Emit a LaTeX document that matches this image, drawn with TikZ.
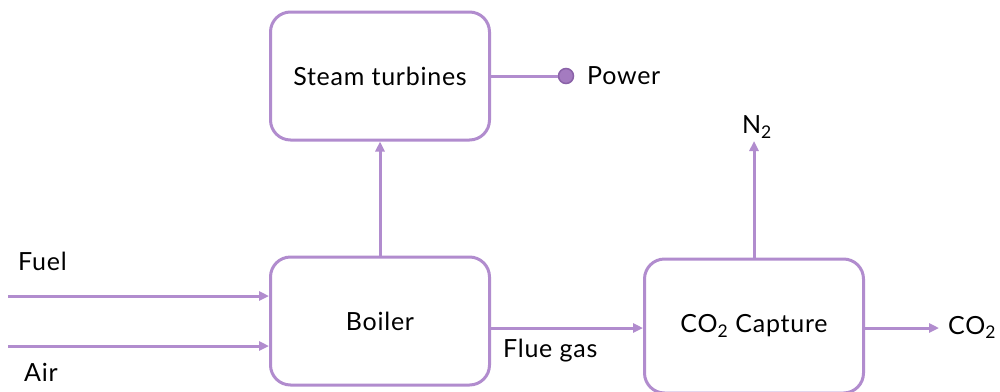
\documentclass[tikz,border=0pt]{standalone}
\usepackage{fontspec}
\setmainfont{Lato}[LetterSpace=3]
\usetikzlibrary{arrows.meta}
\definecolor{pur}{HTML}{B18CCE}
\definecolor{dotfill}{HTML}{A47BC0}
\definecolor{dotline}{HTML}{8A62A8}
\begin{document}
\begin{tikzpicture}[x=1pt,y=-1pt,
  box/.style={draw=pur,line width=3pt,rounded corners=20pt,minimum width=219pt,inner sep=0pt,font=\fontsize{25}{29}\selectfont},
  flow/.style={draw=pur,line width=3pt,-{Triangle[length=10pt,width=9pt]}},
  lbl/.style={inner sep=0pt,font=\fontsize{25}{29}\selectfont}]
\useasboundingbox (0,0) rectangle (1000,391);
\fill[white] (0,0) rectangle (1000,391);
\node[box,minimum height=128pt] (steam) at (380,76) {Steam turbines};
\node[box,minimum height=128pt] (boiler) at (380,321) {Boiler};
\node[box,minimum height=134pt] (capture) at (754,326) {CO\textsubscript{2} Capture};
\node[circle,fill=dotfill,draw=dotline,line width=1.5pt,minimum size=15pt,inner sep=0pt] (dot) at (566,76) {};
\node[lbl,anchor=west] (power) at (587,76) {Power};
\node[lbl,anchor=west] (fuel) at (18,261) {Fuel};
\node[lbl,anchor=west] (air) at (24,372) {Air};
\node[lbl,anchor=west] (flue) at (503,351) {Flue gas};
\node[lbl] (n2) at (757,127) {N\textsubscript{2}};
\node[lbl,anchor=west] (co2) at (948,327) {CO\textsubscript{2}};
\coordinate (fuelin) at (8,296);
\coordinate (airin) at (8,346);
\coordinate (n2end) at (754,141);
\coordinate (co2end) at (939,328);
\draw[flow] (fuelin) -- (fuelin -| boiler.west);
\draw[flow] (airin) -- (airin -| boiler.west);
\draw[flow] (boiler.north) -- (steam.south);
\draw[draw=pur,line width=3pt] (steam.east) -- (dot.west);
\draw[flow] (boiler.east |- 0,328) -- (capture.west |- 0,328);
\draw[flow] (capture.north) -- (n2end);
\draw[flow] (capture.east |- co2end) -- (co2end);
\end{tikzpicture}
\end{document}
